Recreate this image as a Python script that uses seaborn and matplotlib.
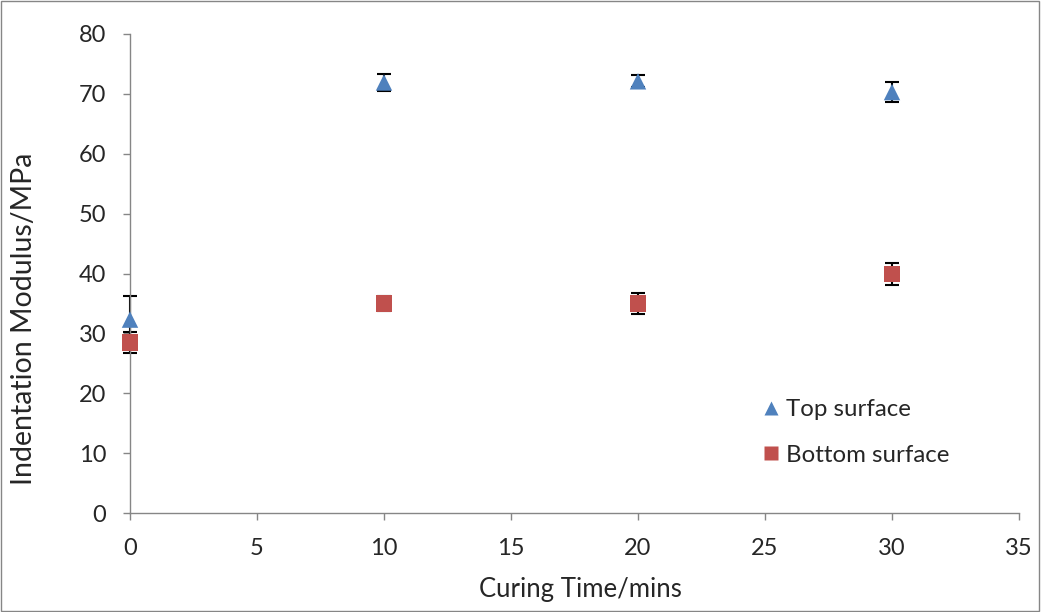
import numpy as np
import pandas as pd
import matplotlib
matplotlib.use("Agg")
import matplotlib.pyplot as plt
import seaborn as sns

# data
time_mins = [0, 10, 20, 30]
top_modulus = [32.3, 71.9, 72.1, 70.3]
top_err = [4.0, 1.5, 1.0, 1.7]
bottom_modulus = [28.5, 35.0, 35.0, 39.9]
bottom_err = [1.8, 1.3, 1.8, 1.9]

sns.set_style("white")
plt.rcParams['font.family'] = ['Lato', 'DejaVu Sans']

df = pd.DataFrame({
    "time": time_mins * 2,
    "modulus": top_modulus + bottom_modulus,
    "surface": ["Top surface"] * 4 + ["Bottom surface"] * 4,
})

fig = plt.figure(figsize=(10.41, 6.12), dpi=100)
ax = fig.add_axes([130 / 1041, 1 - 513 / 612, (1019 - 130) / 1041, (513 - 34) / 612])

# error bars first so markers sit on top
for vals, errs in [(top_modulus, top_err), (bottom_modulus, bottom_err)]:
    eb = ax.errorbar(time_mins, vals, yerr=errs, fmt="none", ecolor="black",
                     elinewidth=1.5, capsize=5, capthick=1.5, zorder=2)
    for art in eb.lines[1] + eb.lines[2]:
        art.set_clip_on(False)

sns.scatterplot(data=df, x="time", y="modulus", hue="surface", style="surface",
                markers={"Top surface": "^", "Bottom surface": "s"},
                palette={"Top surface": "#4F81BD", "Bottom surface": "#C0504D"},
                s=140, edgecolor="none", ax=ax, zorder=3, clip_on=False)

ax.set_xlim(0, 35)
ax.set_ylim(0, 80)
ax.set_xticks(np.arange(0, 36, 5))
ax.set_yticks(np.arange(0, 81, 10))
ax.tick_params(axis="both", which="major", direction="out", length=5, width=1,
               color="#868686", labelsize=17, bottom=True, left=True)
ax.tick_params(axis="x", pad=13)
ax.tick_params(axis="y", pad=12)
for side in ["top", "right"]:
    ax.spines[side].set_visible(False)
for side in ["left", "bottom"]:
    ax.spines[side].set_color("#868686")
    ax.spines[side].set_linewidth(1)

ax.set_xlabel("Curing Time/mins", fontsize=18.5)
ax.set_ylabel("Indentation Modulus/MPa", fontsize=20.5)
ax.xaxis.set_label_coords(0.507, -0.134)
ax.yaxis.set_label_coords(-0.105, 0.405)

leg = ax.legend(loc="upper left", bbox_to_anchor=(0.681, 0.283), frameon=False,
                fontsize=17.3, handletextpad=0.0, labelspacing=1.02, markerscale=0.8,
                handlelength=1.2)
for h in leg.legend_handles:
    h.set_markeredgecolor("none")

fig.patches.append(plt.Rectangle((0.001, 0.002), 0.997, 0.996, transform=fig.transFigure,
                                 fill=False, edgecolor="#868686", linewidth=1))

plt.savefig("out.png", dpi=100)
